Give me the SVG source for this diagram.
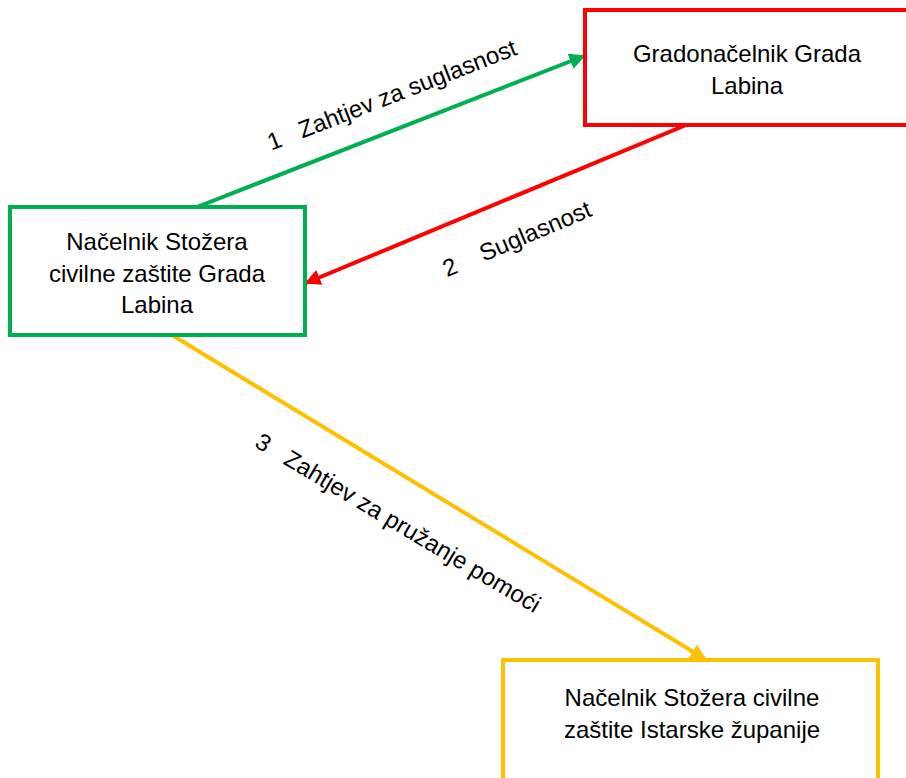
<svg xmlns="http://www.w3.org/2000/svg" width="906" height="778" viewBox="0 0 906 778">
<style>
text{font-family:"Liberation Sans",Arial,sans-serif;font-size:24px;fill:#000;text-anchor:middle;white-space:pre}
.box{fill:#fff;stroke-width:4}
.c{fill:none;stroke-width:4}
</style>
<defs>
<marker id="ag" viewBox="0 0 10 10" refX="9" refY="5" markerWidth="4" markerHeight="4" orient="auto" markerUnits="strokeWidth"><path d="M0,0 L10,5 L0,10 z" fill="#00B050"/></marker>
<marker id="ar" viewBox="0 0 10 10" refX="9" refY="5" markerWidth="4" markerHeight="4" orient="auto" markerUnits="strokeWidth"><path d="M0,0 L10,5 L0,10 z" fill="#FF0000"/></marker>
<marker id="ay" viewBox="0 0 10 10" refX="9" refY="5" markerWidth="4" markerHeight="4" orient="auto" markerUnits="strokeWidth"><path d="M0,0 L10,5 L0,10 z" fill="#FFC000"/></marker>
</defs>
<rect width="906" height="778" fill="#fff"/>
<g id="connectors">
<line class="c" x1="197" y1="207" x2="584" y2="56" stroke="#00B050" marker-end="url(#ag)"/>
<line class="c" x1="686" y1="125" x2="306" y2="283" stroke="#FF0000" marker-end="url(#ar)"/>
<line class="c" x1="172" y1="335" x2="705" y2="659" stroke="#FFC000" marker-end="url(#ay)"/>
<text transform="translate(392,95) rotate(-21.3)" y="8">1   Zahtjev za suglasnost</text>
<text transform="translate(517,239) rotate(-22.9)" y="8">2    Suglasnost</text>
<text transform="translate(398,523) rotate(30.8)" y="8">3   Zahtjev za pružanje pomoći</text>
</g>
<g id="gradonacelnik">
<rect class="box" x="585" y="10" width="340" height="115" stroke="#FF0000"/>
<text x="747" y="62">Gradonačelnik Grada</text>
<text x="747" y="94">Labina</text>
</g>
<g id="stozer-labin">
<rect class="box" x="10" y="207" width="295" height="128" stroke="#00B050"/>
<text x="157" y="250">Načelnik Stožera</text>
<text x="157" y="282">civilne zaštite Grada</text>
<text x="157" y="313">Labina</text>
</g>
<g id="stozer-istra">
<rect class="box" x="503" y="660" width="375" height="140" stroke="#FFC000"/>
<text x="692" y="706">Načelnik Stožera civilne</text>
<text x="692" y="738">zaštite Istarske županije</text>
</g>
</svg>
